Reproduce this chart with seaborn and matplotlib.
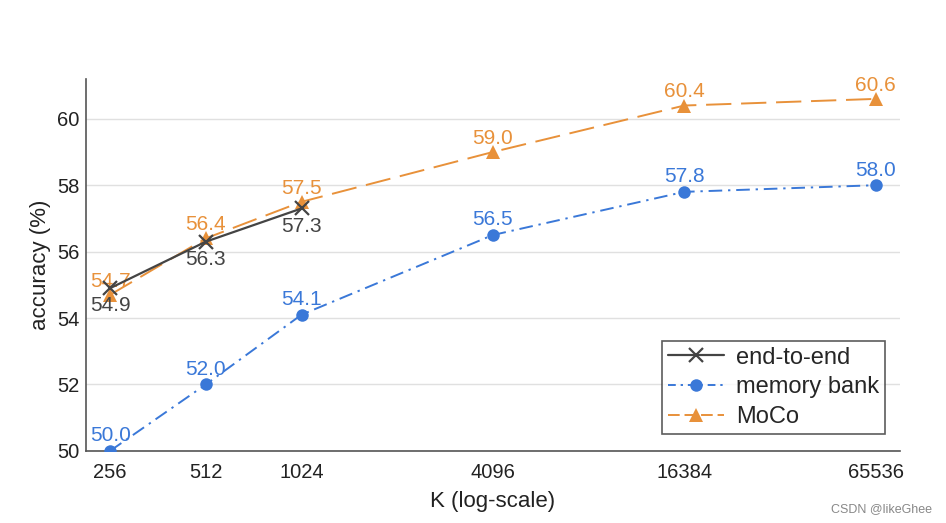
import matplotlib
matplotlib.use('Agg')
import matplotlib.pyplot as plt
from matplotlib.lines import Line2D
import seaborn as sns
import pandas as pd

# queue sizes K and top-1 accuracy for each method
K_e2e = [256, 512, 1024]
acc_e2e = [54.9, 56.3, 57.3]

K_all = [256, 512, 1024, 4096, 16384, 65536]
acc_bank = [50.0, 52.0, 54.1, 56.5, 57.8, 58.0]
acc_moco = [54.7, 56.4, 57.5, 59.0, 60.4, 60.6]

c_e2e = '#444444'
c_bank = '#3a78d8'
c_moco = '#e8913a'

ls_moco = (0, (13, 5))
ls_bank = (0, (7, 3, 1.2, 3))

sns.set_style('white')
plt.rcParams['font.family'] = ['Liberation Sans', 'DejaVu Sans']

fig, ax = plt.subplots(figsize=(9.46, 5.23), dpi=100)
fig.subplots_adjust(left=0.091, right=0.951, bottom=0.138, top=0.849)

df_e2e = pd.DataFrame({'K': K_e2e, 'acc': acc_e2e})
df_bank = pd.DataFrame({'K': K_all, 'acc': acc_bank})
df_moco = pd.DataFrame({'K': K_all, 'acc': acc_moco})

sns.lineplot(data=df_moco, x='K', y='acc', ax=ax, color=c_moco, marker='^',
             markersize=10, markeredgewidth=0, linestyle=ls_moco, lw=1.4,
             legend=False, zorder=3)
sns.lineplot(data=df_bank, x='K', y='acc', ax=ax, color=c_bank, marker='o',
             markersize=9, markeredgewidth=0, linestyle=ls_bank, lw=1.4,
             legend=False, zorder=3)
sns.lineplot(data=df_e2e, x='K', y='acc', ax=ax, color=c_e2e, marker='x',
             markersize=10, markeredgewidth=1.6, markeredgecolor=c_e2e, lw=1.6,
             legend=False, zorder=4)

ax.set_xscale('log', base=2)
ax.set_xlim(215, 78000)
ax.set_ylim(50, 61.2)
ax.set_xticks(K_all)
ax.set_xticklabels([str(k) for k in K_all])
ax.minorticks_off()
ax.set_yticks([50, 52, 54, 56, 58, 60])
ax.yaxis.grid(True, color='#e0e0e0', lw=1)
ax.set_axisbelow(True)

for s in ['top', 'right']:
    ax.spines[s].set_visible(False)
for s in ['left', 'bottom']:
    ax.spines[s].set_color('#555555')
    ax.spines[s].set_linewidth(1.2)

ax.tick_params(axis='x', direction='in', length=6, color='#555555', labelsize=14.5,
               labelcolor='#222222', pad=9)
ax.tick_params(axis='y', length=0, labelsize=14.5, labelcolor='#222222', pad=5)
ax.set_xlabel('K (log-scale)', fontsize=16, labelpad=6, color='#222222')
ax.set_ylabel('accuracy (%)', fontsize=16, labelpad=4, color='#222222')

for k, v in zip(K_all, acc_moco):
    ax.annotate(f'{v:.1f}', (k, v), xytext=(0, 3), textcoords='offset points',
                ha='center', va='bottom', color=c_moco, fontsize=15)
for k, v in zip(K_all, acc_bank):
    ax.annotate(f'{v:.1f}', (k, v), xytext=(0, 4), textcoords='offset points',
                ha='center', va='bottom', color=c_bank, fontsize=15)
for k, v in zip(K_e2e, acc_e2e):
    ax.annotate(f'{v:.1f}', (k, v), xytext=(0, -6), textcoords='offset points',
                ha='center', va='top', color=c_e2e, fontsize=15)

handles = [
    Line2D([], [], color=c_e2e, lw=1.6, marker='x', markersize=10, markeredgewidth=1.6),
    Line2D([], [], color=c_bank, lw=1.4, linestyle=(0, (4, 2.5, 1.2, 2.5)), marker='o',
           markersize=9, markeredgewidth=0),
    Line2D([], [], color=c_moco, lw=1.4, linestyle=(0, (6, 2.5)), marker='^',
           markersize=10, markeredgewidth=0),
]
leg = ax.legend(handles, ['end-to-end', 'memory bank', 'MoCo'],
                loc='lower right', bbox_to_anchor=(0.982, 0.046), fontsize=17,
                frameon=True, fancybox=False, handlelength=2.4,
                handletextpad=0.5, borderpad=0.25, labelspacing=0.32,
                borderaxespad=0.0)
leg.get_frame().set_edgecolor('#333333')
leg.get_frame().set_linewidth(1.2)

fig.text(0.985, 0.015, 'CSDN @likeGhee', ha='right', va='bottom', fontsize=9, color='#888888')

fig.savefig('out.png', dpi=100)
